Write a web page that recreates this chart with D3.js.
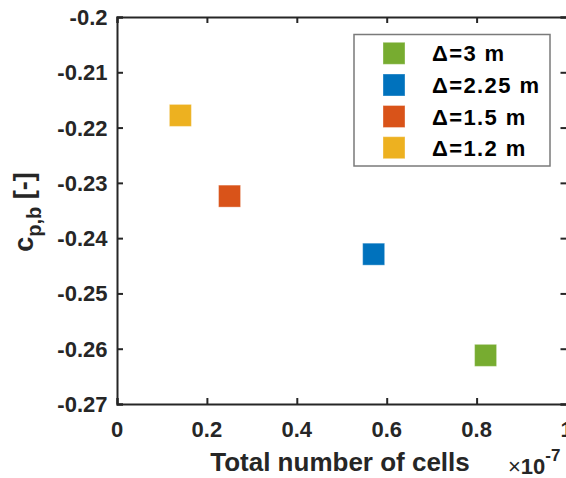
<!DOCTYPE html>
<html>
<head>
<meta charset="utf-8">
<script src="https://cdn.jsdelivr.net/npm/d3@7/dist/d3.min.js"></script>
<style>
html,body{margin:0;padding:0;background:#fff;}
svg{display:block;}
text{font-family:"Liberation Sans",Arial,Helvetica,sans-serif;font-weight:bold;fill:#262626;}
</style>
</head>
<body>
<svg id="chart" width="566" height="478"></svg>
<script>
const seriesLabels = ["\u0394=3 m", "\u0394=2.25 m", "\u0394=1.5 m", "\u0394=1.2 m"];
const xValues = [0.82, 0.571, 0.2504, 0.141];
const yValues = [-0.2612, -0.2429, -0.2324, -0.2178];
const seriesColors = ["#77AC30", "#0072BD", "#D95319", "#EDB120"];
const xTicks = [0, 0.2, 0.4, 0.6, 0.8, 1];
const xTickLabels = ["0", "0.2", "0.4", "0.6", "0.8", "1"];
const yTicks = [-0.27, -0.26, -0.25, -0.24, -0.23, -0.22, -0.21, -0.2];
const yTickLabels = ["-0.27", "-0.26", "-0.25", "-0.24", "-0.23", "-0.22", "-0.21", "-0.2"];

const svg = d3.select("#chart");
const L = 117, R = 566.5, T = 17, B = 404;
const x = d3.scaleLinear().domain([0, 1]).range([L, R]);
const y = d3.scaleLinear().domain([-0.27, -0.2]).range([B, T]);
const axisColor = "#262626";
const tickLen = 6;

// Axes with inward ticks
const gB = svg.append("g").attr("transform", `translate(0,${B})`)
  .call(d3.axisBottom(x).tickValues(xTicks).tickSize(-tickLen).tickFormat(()=>""));
const gT = svg.append("g").attr("transform", `translate(0,${T})`)
  .call(d3.axisTop(x).tickValues(xTicks).tickSize(-tickLen).tickFormat(()=>""));
const gL = svg.append("g").attr("transform", `translate(${L},0)`)
  .call(d3.axisLeft(y).tickValues(yTicks).tickSize(-tickLen).tickFormat(()=>""));
const gR = svg.append("g").attr("transform", `translate(${R},0)`)
  .call(d3.axisRight(y).tickValues(yTicks).tickSize(-tickLen).tickFormat(()=>""));
[gB,gT,gL,gR].forEach(g=>{
  g.select(".domain").attr("stroke", axisColor).attr("stroke-width", 2);
  g.selectAll(".tick line").attr("stroke", axisColor).attr("stroke-width", 2);
  g.selectAll(".tick text").remove();
});

// tick labels
svg.append("g").selectAll("text").data(xTicks).join("text")
  .attr("x", d => x(d)).attr("y", 437)
  .attr("text-anchor", "middle").attr("font-size", 22)
  .text((d,i) => xTickLabels[i]);
svg.append("g").selectAll("text").data(yTicks).join("text")
  .attr("x", 107.5).attr("y", d => y(d) + 8)
  .attr("text-anchor", "end").attr("font-size", 22)
  .text((d,i) => yTickLabels[i]);

// axis labels
svg.append("text").attr("x", 340).attr("y", 471).attr("text-anchor", "middle")
  .attr("font-size", 26).text("Total number of cells");
const ex = svg.append("text").attr("x", 508).attr("y", 474).attr("font-size", 22);
ex.append("tspan").attr("font-weight", "normal").text("\u00d7");
ex.append("tspan").text("10");
ex.append("tspan").attr("font-size", 17).attr("dy", -13).text("-7");

const yl = svg.append("text").attr("transform", "translate(33,212) rotate(-90)")
  .attr("text-anchor", "middle").attr("font-size", 27);
yl.append("tspan").text("c");
yl.append("tspan").attr("font-size", 20).attr("dy", 8).text("p,b");
yl.append("tspan").attr("dy", -8).text(" [-]");

// data markers
const ms = 22;
svg.append("g").selectAll("rect").data(xValues).join("rect")
  .attr("x", (d,i) => x(d) - ms/2).attr("y", (d,i) => y(yValues[i]) - ms/2)
  .attr("width", ms).attr("height", ms)
  .attr("fill", (d,i) => seriesColors[i])
  .attr("stroke", "#ffffff").attr("stroke-opacity", 0.35).attr("stroke-width", 1);

// legend
const lg = svg.append("g");
lg.append("rect").attr("x", 354).attr("y", 34.5).attr("width", 196).attr("height", 131.5)
  .attr("fill", "#fff").attr("stroke", "#7a7a7a").attr("stroke-width", 1.5);
const rowY = [53.3, 85, 116.5, 147.7];
seriesLabels.forEach((lab, i) => {
  lg.append("rect").attr("x", 383).attr("y", rowY[i] - 11).attr("width", 22).attr("height", 22)
    .attr("fill", seriesColors[i]).attr("stroke", "#ffffff").attr("stroke-opacity", 0.35);
  lg.append("text").attr("x", 432).attr("y", rowY[i] + 8).attr("font-size", 22)
    .attr("letter-spacing", 1.4).style("fill", "#000").text(lab);
});
</script>
</body>
</html>
